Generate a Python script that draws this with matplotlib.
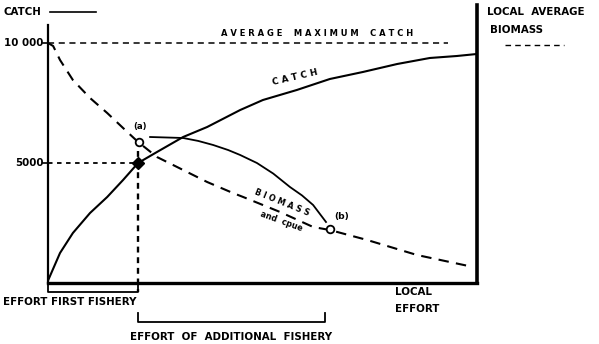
import matplotlib
matplotlib.use("Agg")
import matplotlib.pyplot as plt
from matplotlib.lines import Line2D

# local effort (0-100) vs catch / biomass
catch_x = [0, 2.8, 5.8, 9.8, 13.8, 17.5, 21, 25.4, 31.5, 37.1, 44.8, 50.1, 58.0, 65.7, 73.4, 81.4, 89.0, 95.3, 100]
catch_y = [100, 1250, 2083, 2917, 3583, 4292, 5000, 5458, 6083, 6500, 7208, 7625, 8042, 8500, 8792, 9125, 9375, 9458, 9542]

biomass_x = [0, 1.2, 2.8, 5.8, 9.8, 13.8, 17.5, 21, 25.4, 31.5, 37.1, 43.1, 45.5, 54.1, 61.8, 65.7, 74.4, 86.0, 99.1]
biomass_y = [10000, 9875, 9292, 8458, 7708, 7083, 6458, 5875, 5250, 4708, 4208, 3750, 3583, 2958, 2333, 2208, 1792, 1167, 667]

# catch of the additional fishery, from point (a) to point (b)
extra_x = [23.8, 31.5, 35.0, 38.5, 42.0, 44.8, 48.7, 52.5, 56.4, 59.2, 61.8, 64.8]
extra_y = [6083, 6042, 5920, 5750, 5540, 5333, 5000, 4560, 4000, 3650, 3250, 2542]

max_catch = 10000
first_effort = 21
first_catch = 5000
point_a = (21.2, 5875)
point_b = (65.7, 2250)
additional_end = 64.6

plt.rcParams['font.family'] = ['DejaVu Sans']
plt.rcParams['font.weight'] = 'bold'

fig = plt.figure(figsize=(5.99, 3.44), dpi=100)
W, H = 599, 344
ax = fig.add_axes([48 / W, (H - 283) / H, (477 - 48) / W, (283 - 5) / H])
ax.set_xlim(0, 100)
ax.set_ylim(0, 11583)
ax.set_xticks([])
ax.set_yticks([])
ax.spines['top'].set_visible(False)
ax.spines['left'].set_bounds(0, 10750)
ax.spines['left'].set_linewidth(1.6)
ax.spines['bottom'].set_linewidth(2.4)
ax.spines['right'].set_linewidth(2.6)

ax.plot(catch_x, catch_y, color='black', lw=1.5, solid_joinstyle='round')
ax.plot(biomass_x, biomass_y, color='black', lw=1.5, dashes=(5, 3.5))
ax.plot(extra_x, extra_y, color='black', lw=1.3, solid_joinstyle='round')
ax.plot([0, 93.2], [max_catch, max_catch], color='black', lw=1.1, dashes=(4, 3))

# guides for the first fishery
ax.plot([0, first_effort], [first_catch, first_catch], color='black', lw=1.3, dashes=(2.5, 2.5))
ax.plot([first_effort, first_effort], [5500, -375], color='black', lw=1.7, dashes=(2.5, 2), clip_on=False)
ax.plot([first_effort], [first_catch], marker='D', ms=6, color='black', zorder=5)
ax.plot(*point_a, marker='o', ms=5.5, mfc='white', mec='black', mew=1.3, zorder=5)
ax.plot(*point_b, marker='o', ms=5.5, mfc='white', mec='black', mew=1.3, zorder=5)

# effort brackets under the axis
ax.plot([0, 0, first_effort, first_effort], [0, -375, -375, 0], color='black', lw=1.3, clip_on=False)
ax.plot([first_effort, first_effort, additional_end, additional_end], [-1250, -1625, -1625, -1250],
        color='black', lw=1.3, clip_on=False)

fs = 7.4
ax.text(-1, max_catch, '10 000', ha='right', va='center', fontsize=fs)
ax.text(-1, first_catch, '5000', ha='right', va='center', fontsize=fs)
ax.plot([-1.2, 0], [max_catch, max_catch], color='black', lw=1.2, clip_on=False)
ax.plot([-1.2, 0], [first_catch, first_catch], color='black', lw=1.2, clip_on=False)

ax.text(62.7, 10400, 'A V E R A G E    M A X I M U M    C A T C H', ha='center', va='center', fontsize=6.0)
ax.text(57.6, 8550, 'C A T C H', ha='center', va='center', fontsize=6.4, rotation=13)
ax.text(54.5, 3350, 'B I O M A S S', ha='center', va='center', fontsize=5.8, rotation=-22)
ax.text(54.5, 2550, 'and  cpue', ha='center', va='center', fontsize=5.8, rotation=-20)
ax.text(21.5, 6500, '(a)', ha='center', va='center', fontsize=6.2)
ax.text(68.5, 2750, '(b)', ha='center', va='center', fontsize=6.6)

fig.text(3 / W, 1 - 12 / H, 'CATCH', ha='left', va='center', fontsize=fs)
fig.add_artist(Line2D([50 / W, 96 / W], [1 - 12 / H, 1 - 12 / H], color='black', lw=1.2))
fig.text(487 / W, 1 - 12 / H, 'LOCAL  AVERAGE', ha='left', va='center', fontsize=fs)
fig.text(490 / W, 1 - 30 / H, 'BIOMASS', ha='left', va='center', fontsize=fs)
fig.add_artist(Line2D([505 / W, 564 / W], [1 - 45 / H, 1 - 45 / H], color='black', lw=1.0, dashes=(4, 3)))

fig.text(3 / W, 1 - 302 / H, 'EFFORT FIRST FISHERY', ha='left', va='center', fontsize=fs)
fig.text(395 / W, 1 - 292 / H, 'LOCAL', ha='left', va='center', fontsize=fs)
fig.text(395 / W, 1 - 309 / H, 'EFFORT', ha='left', va='center', fontsize=fs)
fig.text(130 / W, 1 - 337 / H, 'EFFORT  OF  ADDITIONAL  FISHERY', ha='left', va='center', fontsize=fs)

fig.savefig('out.png', dpi=100)
